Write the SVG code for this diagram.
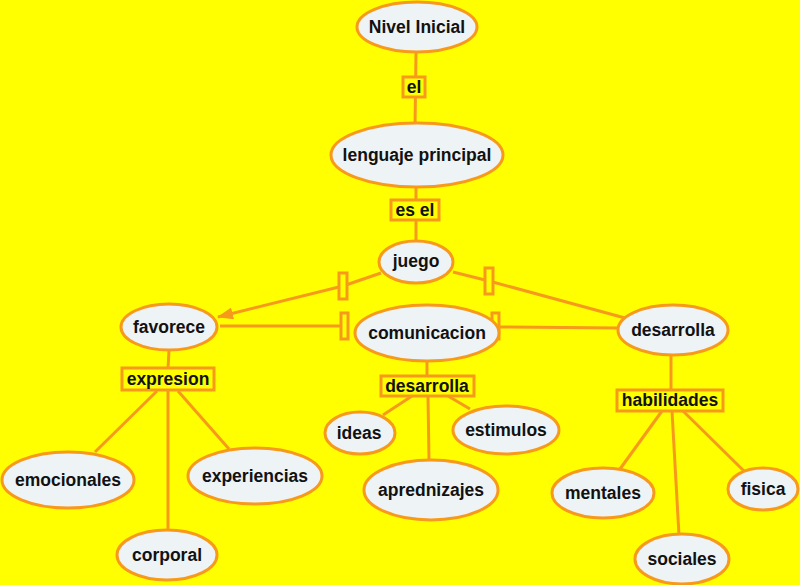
<svg xmlns="http://www.w3.org/2000/svg" width="800" height="585" viewBox="0 0 800 585">
<defs>
<style>
.n{fill:#eef3f6;stroke:#f79a1c;stroke-width:3}
.l{fill:#ffff00;stroke:#f79a1c;stroke-width:3}
.c{stroke:#f79a1c;stroke-width:3;fill:none}
text{font-family:"Liberation Sans",Arial,sans-serif;font-weight:bold;font-size:17.5px;fill:#111;text-anchor:middle;dominant-baseline:central}
</style>
<marker id="arr" viewBox="0 0 16 12" refX="15" refY="6" markerWidth="16" markerHeight="12" markerUnits="userSpaceOnUse" orient="auto">
<path d="M0,0 L16,6 L0,12 z" fill="#f79a1c"/>
</marker>
</defs>
<rect width="800" height="585" fill="#ffff00"/>
<g id="connectors">
<line class="c" x1="416" y1="53" x2="415" y2="129"/>
<line class="c" x1="416" y1="188" x2="416" y2="241"/>
<line class="c" x1="381" y1="273" x2="343" y2="286"/>
<line class="c" x1="343" y1="286" x2="218" y2="317" marker-end="url(#arr)"/>
<line class="c" x1="453" y1="272" x2="489" y2="281"/>
<line class="c" x1="489" y1="281" x2="625" y2="318"/>
<line class="c" x1="220" y1="326" x2="344" y2="326"/>
<line class="c" x1="495" y1="327" x2="618" y2="328"/>
<line class="c" x1="169" y1="350" x2="168" y2="369"/>
<line class="c" x1="157" y1="391" x2="95" y2="452"/>
<line class="c" x1="168" y1="391" x2="168" y2="530"/>
<line class="c" x1="178" y1="391" x2="229" y2="449"/>
<line class="c" x1="427" y1="361" x2="427" y2="376"/>
<line class="c" x1="412" y1="396" x2="383" y2="415"/>
<line class="c" x1="448" y1="396" x2="470" y2="409"/>
<line class="c" x1="428" y1="396" x2="429" y2="460"/>
<line class="c" x1="671" y1="355" x2="671" y2="390"/>
<line class="c" x1="662" y1="411" x2="620" y2="469"/>
<line class="c" x1="672" y1="411" x2="679" y2="535"/>
<line class="c" x1="683" y1="411" x2="745" y2="472"/>
</g>
<g id="tick1"><rect class="l" x="339" y="273" width="8" height="26"/></g>
<g id="tick2"><rect class="l" x="485" y="268" width="8" height="26"/></g>
<g id="tick3"><rect class="l" x="341" y="313" width="7" height="26"/></g>
<g id="tick4"><rect class="l" x="492" y="313" width="7" height="26"/></g>
<g id="lbl-el"><rect class="l" x="403" y="77" width="22" height="20"/><text x="414" y="87">el</text></g>
<g id="lbl-esel"><rect class="l" x="391" y="200" width="48" height="20"/><text x="415" y="210">es el</text></g>
<g id="lbl-expresion"><rect class="l" x="122" y="368" width="92" height="22"/><text x="168" y="379">expresion</text></g>
<g id="lbl-desarrolla"><rect class="l" x="381" y="376" width="93" height="20"/><text x="427" y="386">desarrolla</text></g>
<g id="lbl-habilidades"><rect class="l" x="617" y="390" width="106" height="21"/><text x="670" y="400">habilidades</text></g>
<g id="nivel"><ellipse class="n" cx="417" cy="27" rx="60" ry="25"/><text x="417" y="27">Nivel Inicial</text></g>
<g id="lenguaje"><ellipse class="n" cx="417" cy="155" rx="86" ry="32"/><text x="417" y="155">lenguaje principal</text></g>
<g id="juego"><ellipse class="n" cx="416" cy="262" rx="37" ry="21"/><text x="416" y="261">juego</text></g>
<g id="favorece"><ellipse class="n" cx="169" cy="327" rx="48" ry="23"/><text x="169" y="327">favorece</text></g>
<g id="comunicacion"><ellipse class="n" cx="427" cy="333" rx="72" ry="28"/><text x="427" y="333">comunicacion</text></g>
<g id="desarrolla"><ellipse class="n" cx="673" cy="330" rx="55" ry="25"/><text x="673" y="330">desarrolla</text></g>
<g id="emocionales"><ellipse class="n" cx="68" cy="480" rx="66" ry="28"/><text x="68" y="480">emocionales</text></g>
<g id="corporal"><ellipse class="n" cx="167" cy="555" rx="50" ry="25"/><text x="167" y="555">corporal</text></g>
<g id="experiencias"><ellipse class="n" cx="255" cy="476" rx="67" ry="28"/><text x="255" y="476">experiencias</text></g>
<g id="ideas"><ellipse class="n" cx="360" cy="433" rx="35" ry="21"/><text x="359" y="433">ideas</text></g>
<g id="estimulos"><ellipse class="n" cx="506" cy="430" rx="53" ry="24"/><text x="506" y="430">estimulos</text></g>
<g id="aprednizajes"><ellipse class="n" cx="431" cy="490" rx="67" ry="30"/><text x="431" y="490">aprednizajes</text></g>
<g id="mentales"><ellipse class="n" cx="603" cy="493" rx="51" ry="25"/><text x="603" y="493">mentales</text></g>
<g id="sociales"><ellipse class="n" cx="682" cy="559" rx="47" ry="25"/><text x="682" y="559">sociales</text></g>
<g id="fisica"><ellipse class="n" cx="763" cy="489" rx="35" ry="21"/><text x="763" y="489">fisica</text></g>
</svg>
